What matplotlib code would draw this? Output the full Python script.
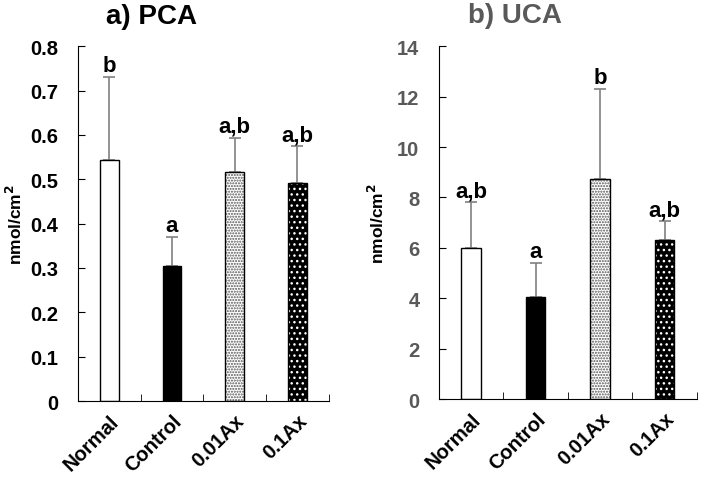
import numpy as np
import matplotlib.pyplot as plt

plt.rcParams['font.family'] = ['Liberation Sans', 'DejaVu Sans']
plt.rcParams['font.weight'] = 'bold'
plt.rcParams['hatch.linewidth'] = 1.0

groups = ['Normal', 'Control', '0.01Ax', '0.1Ax']

pca_mean = [0.543, 0.305, 0.516, 0.492]
pca_err = [0.187, 0.065, 0.078, 0.082]
pca_sig = ['b', 'a', 'a,b', 'a,b']
pca_ticks = ['0', '0.1', '0.2', '0.3', '0.4', '0.5', '0.6', '0.7', '0.8']

uca_mean = [6.0, 4.05, 8.75, 6.3]
uca_err = [1.8, 1.35, 3.55, 0.75]
uca_sig = ['a,b', 'a', 'b', 'a,b']
uca_ticks = ['0', '2', '4', '6', '8', '10', '12', '14']

gray = '#595959'

fig = plt.figure(figsize=(7.01, 4.81), dpi=100)
ax1 = fig.add_axes([0.111, 0.164, 0.358, 0.738])
ax2 = fig.add_axes([0.626, 0.168, 0.368, 0.734])


def draw_panel(ax, mean, err, sig, ymax, ticklabels, tick_color):
    x = np.arange(1, len(groups) + 1)
    w = 0.3
    # error bars, upper side only
    ax.errorbar(x, mean, yerr=[np.zeros(len(x)), err], fmt='none',
                ecolor='#808080', elinewidth=1.2, capsize=4, capthick=1.2, zorder=1)
    ax.bar(x[0], mean[0], w, color='white', edgecolor='black', linewidth=1, zorder=2)
    ax.bar(x[1], mean[1], w, color='black', edgecolor='black', linewidth=1, zorder=2)
    ax.bar(x[2], mean[2], w, color='white', edgecolor='#555555', hatch='......',
           linewidth=0, zorder=2)
    ax.bar(x[2], mean[2], w, fill=False, edgecolor='black', linewidth=1, zorder=3)
    ax.bar(x[3], mean[3], w, color='black', edgecolor='white', hatch='...',
           linewidth=0, zorder=2)
    ax.bar(x[3], mean[3], w, fill=False, edgecolor='black', linewidth=1, zorder=3)
    # significance letters just above the caps
    for xi, m, e, s in zip(x, mean, err, sig):
        ax.annotate(s, (xi, m + e), xytext=(0, 1), textcoords='offset points',
                    ha='center', va='bottom', fontsize=16, fontweight='bold',
                    color='black')
    ax.set_xlim(0.5, 4.5)
    ax.set_ylim(0, ymax)
    ax.set_yticks(np.linspace(0, ymax, len(ticklabels)))
    ax.set_yticklabels(ticklabels, fontsize=14.5, fontweight='bold', color=tick_color)
    ax.set_xticks(x)
    ax.set_xticklabels(groups, rotation=45, ha='right', rotation_mode='anchor',
                       fontsize=14.5, fontweight='bold')
    ax.tick_params(axis='x', which='major', length=0, pad=7)
    ax.set_xticks(np.arange(0.5, 4.6, 1), minor=True)
    ax.tick_params(axis='x', which='minor', direction='in', length=5)
    ax.tick_params(axis='y', direction='in', length=5, pad=14)
    for sp in ['top', 'right']:
        ax.spines[sp].set_visible(False)
    ax.set_ylabel('nmol/cm$^\\mathbf{2}$', fontsize=12.5, fontweight='bold')


draw_panel(ax1, pca_mean, pca_err, pca_sig, 0.8, pca_ticks, 'black')
draw_panel(ax2, uca_mean, uca_err, uca_sig, 14, uca_ticks, gray)
ax1.yaxis.set_label_coords(-0.21, 0.5)
ax2.yaxis.set_label_coords(-0.2, 0.5)

fig.text(152 / 701, 1 - 17 / 481, 'a) PCA', ha='center', va='center',
         fontsize=20, fontweight='bold', color='black')
fig.text(515 / 701, 1 - 16 / 481, 'b) UCA', ha='center', va='center',
         fontsize=20, fontweight='bold', color=gray)

fig.savefig('out.png', dpi=100)
